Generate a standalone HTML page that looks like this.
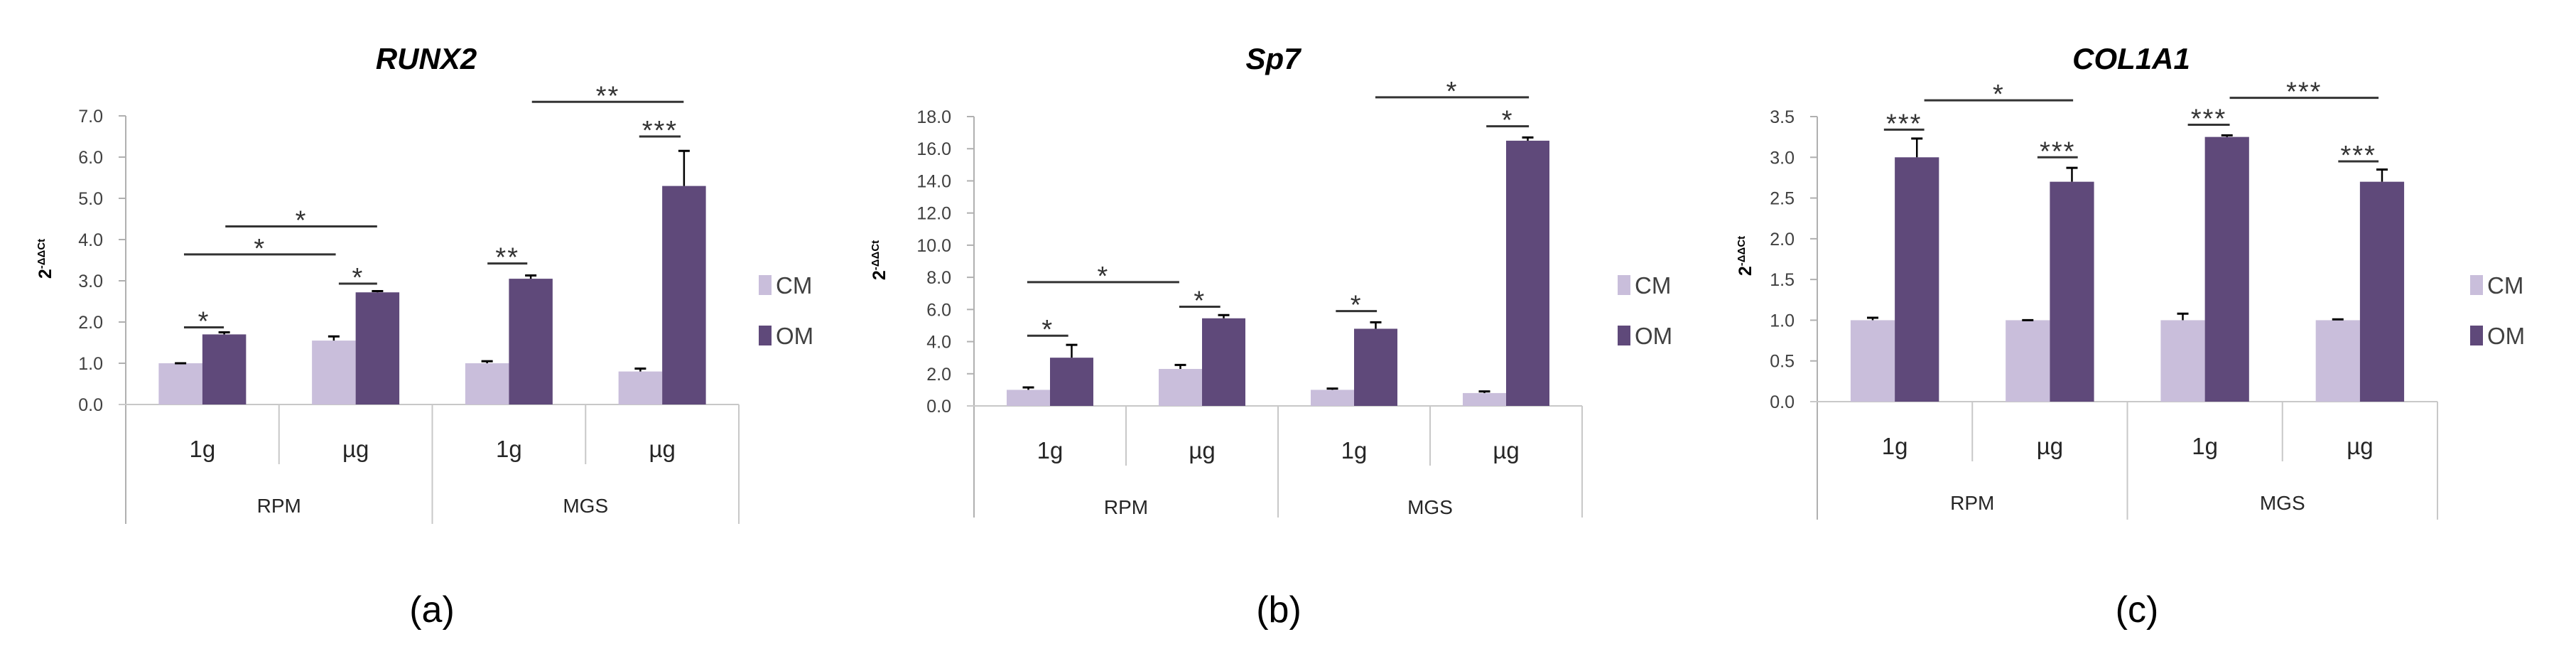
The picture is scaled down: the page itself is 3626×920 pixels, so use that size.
<!DOCTYPE html>
<html><head><meta charset="utf-8">
<style>
html,body{margin:0;padding:0;background:#fff;}
svg{display:block;}
text{font-family:"Liberation Sans",sans-serif;}
</style></head>
<body>
<svg id="fig" width="3626" height="920" viewBox="0 0 3626 920" xmlns="http://www.w3.org/2000/svg"></svg>
<script>
// ---- data ----
const categories = ["1g","µg","1g","µg"];
const groups = ["RPM","MGS"];
const seriesNames = ["CM","OM"];

const runx2CM = [1.0, 1.55, 1.0, 0.8];
const runx2CMErr = [0.0, 0.1, 0.05, 0.07];
const runx2OM = [1.7, 2.72, 3.05, 5.3];
const runx2OMErr = [0.05, 0.03, 0.08, 0.85];
const runx2Ticks = ["0.0","1.0","2.0","3.0","4.0","5.0","6.0","7.0"];
const runx2Sig = [[0.38,0.64,1.87,"*"],[0.38,1.37,3.64,"*"],[0.65,1.64,4.32,"*"],[1.39,1.64,2.93,"*"],[2.36,2.62,3.42,"**"],[3.35,3.62,6.5,"***"],[2.65,3.64,7.34,"**"]];

const sp7CM = [1.0, 2.3, 1.0, 0.8];
const sp7CMErr = [0.15, 0.25, 0.08, 0.1];
const sp7OM = [3.0, 5.45, 4.8, 16.5];
const sp7OMErr = [0.8, 0.2, 0.4, 0.2];
const sp7Ticks = ["0.0","2.0","4.0","6.0","8.0","10.0","12.0","14.0","16.0","18.0"];
const sp7Sig = [[0.35,0.62,4.37,"*"],[0.35,1.35,7.7,"*"],[1.35,1.62,6.17,"*"],[2.38,2.65,5.9,"*"],[3.37,3.65,17.4,"*"],[2.64,3.65,19.2,"*"]];

const colCM = [1.0, 1.0, 1.0, 1.0];
const colCMErr = [0.03, 0.0, 0.08, 0.01];
const colOM = [3.0, 2.7, 3.25, 2.7];
const colOMErr = [0.23, 0.17, 0.02, 0.15];
const colTicks = ["0.0","0.5","1.0","1.5","2.0","2.5","3.0","3.5"];
const colSig = [[0.43,0.69,3.34,"***"],[0.69,1.65,3.70,"*"],[1.42,1.68,3.0,"***"],[2.39,2.66,3.40,"***"],[2.66,3.62,3.73,"***"],[3.36,3.62,2.95,"***"]];

const NS="http://www.w3.org/2000/svg";
const svg=document.getElementById('fig');
function mk(tag,attrs,parent,txt){const e=document.createElementNS(NS,tag);for(const k in attrs)e.setAttribute(k,attrs[k]);if(txt!==undefined)e.textContent=txt;(parent||svg).appendChild(e);return e;}

function panel(cfg){
  const g=mk('g',{});
  
  
  const x0=cfg.x0,x1=cfg.x1,y0=cfg.y0,yTop=cfg.yTop,max=cfg.max;
  const catW=(x1-x0)/4;
  const ys=v=>y0-(v/max)*(y0-yTop);
  const xs=c=>x0+c*catW;
  const t=mk('text',{x:cfg.titleX,y:97,'text-anchor':'middle','font-size':42,'font-weight':'bold','font-style':'italic',fill:'#000'},g,cfg.title);
  
  
  const ax=mk('line',{x1:x0,y1:yTop,x2:x0,y2:cfg.yBottom,stroke:'#b0b0b0','stroke-width':2},g);
  
  
  cfg.ticks.forEach((lab,i)=>{
    const v=max*i/(cfg.ticks.length-1);
    const y=ys(v);
    mk('line',{x1:x0-10,y1:y,x2:x0,y2:y,stroke:'#b0b0b0','stroke-width':2},g);
    const tl=mk('text',{x:x0-32,y:y+9,'text-anchor':'end','font-size':25,fill:'#404040'},g,lab);
    
    
  });
  const yt=mk('text',{transform:`translate(${cfg.yLabX},${y0-205}) rotate(-90)`,'text-anchor':'middle','font-size':25,'font-weight':'bold',fill:'#000'},g);
  
  
  mk('tspan',{},yt,'2');
  mk('tspan',{dy:-9,'font-size':15},yt,'-ΔΔCt');
  const xa=mk('line',{x1:x0-10,y1:y0,x2:x1,y2:y0,stroke:'#c8c8c8','stroke-width':2},g);
  
  
  for(let i=1;i<=4;i++){
    const long=(i%2===0);
    mk('line',{x1:xs(i),y1:y0,x2:xs(i),y2:long?cfg.yBottom:y0+84,stroke:'#c8c8c8','stroke-width':2},g);
  }
  categories.forEach((c,i)=>{
    const cl=mk('text',{x:xs(i+0.5),y:y0+74,'text-anchor':'middle','font-size':33,fill:'#262626','font-family':'"Liberation Serif",serif'},g,c);
    
    
  });
  groups.forEach((gn,i)=>{
    const gl=mk('text',{x:xs(i*2+1),y:y0+152,'text-anchor':'middle','font-size':28,fill:'#262626'},g,gn);
    
    
  });
  const bw=catW*0.285, off=catW*0.215;
  const series=[[cfg.cm,cfg.cmErr,'#c9bedb'],[cfg.om,cfg.omErr,'#5f497a']];
  series.forEach((s,si)=>{
    s[0].forEach((v,i)=>{
      const bx=xs(i)+off+si*bw;
      const r=mk('rect',{x:bx,y:ys(v),width:bw,height:y0-ys(v),fill:s[2]},g);
      
      
      const e=s[1][i];
      const cx=bx+bw/2, ye=ys(v+e);
      mk('line',{x1:cx,y1:ys(v),x2:cx,y2:ye,stroke:'#000','stroke-width':2.5},g);
      mk('line',{x1:cx-8,y1:ye,x2:cx+8,y2:ye,stroke:'#000','stroke-width':3},g);
    });
  });
  cfg.sig.forEach(s=>{
    const y=ys(s[2]);
    const l=mk('line',{x1:xs(s[0]),y1:y,x2:xs(s[1]),y2:y,stroke:'#333','stroke-width':3},g);
    
    
    const st=mk('text',{x:(xs(s[0])+xs(s[1]))/2,y:y+4,'text-anchor':'middle','font-size':38,fill:'#333','letter-spacing':2},g,s[3]);
    
    
  });
  const lx=cfg.legX;
  [['CM','#c9bedb',401],['OM','#5f497a',472]].forEach(L=>{
    const lg=mk('g',{},g);
    
    
    mk('rect',{x:lx,y:L[2]-14,width:18,height:28,fill:L[1]},lg);
    mk('text',{x:lx+24,y:L[2]+12,'font-size':33,fill:'#404040'},lg,L[0]);
  });
  const pl=mk('text',{x:cfg.titleX+8,y:875,'text-anchor':'middle','font-size':52,fill:'#000','font-family':'"Liberation Serif",serif'},g,cfg.label);
  
  
}

panel({name:'runx2',title:'RUNX2',label:'(a)',x0:177,x1:1040,y0:569,yTop:163,yBottom:737,max:7,ticks:runx2Ticks,cm:runx2CM,cmErr:runx2CMErr,om:runx2OM,omErr:runx2OMErr,sig:runx2Sig,titleX:600,legX:1068,yLabX:72});
panel({name:'sp7',title:'Sp7',label:'(b)',x0:1371,x1:2227,y0:571,yTop:164,yBottom:728,max:18,ticks:sp7Ticks,cm:sp7CM,cmErr:sp7CMErr,om:sp7OM,omErr:sp7OMErr,sig:sp7Sig,titleX:1792,legX:2277,yLabX:1246});
panel({name:'col1a1',title:'COL1A1',label:'(c)',x0:2558,x1:3431,y0:565,yTop:164,yBottom:731,max:3.5,ticks:colTicks,cm:colCM,cmErr:colCMErr,om:colOM,omErr:colOMErr,sig:colSig,titleX:3000,legX:3477,yLabX:2465});
</script>
</body></html>
